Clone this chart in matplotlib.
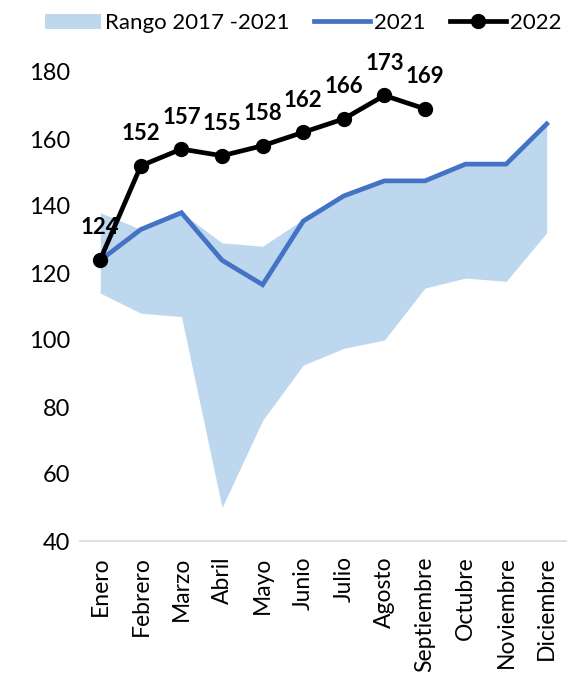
import matplotlib
matplotlib.use("Agg")
import matplotlib.pyplot as plt
import numpy as np

months = ["Enero", "Febrero", "Marzo", "Abril", "Mayo", "Junio", "Julio",
          "Agosto", "Septiembre", "Octubre", "Noviembre", "Diciembre"]
range_low = [114, 108, 107, 50, 76, 92.5, 97.5, 100, 115.5, 118.5, 117.5, 132]
range_high = [138, 133, 138, 129, 128, 136, 143, 147.5, 147.5, 152.5, 152.5, 164.5]
s2021 = [123.8, 133, 138, 123.8, 116.5, 135.5, 143, 147.5, 147.5, 152.5, 152.5, 164.5]
s2022 = [124, 152, 157, 155, 158, 162, 166, 173, 169]
labels2022 = ["124", "152", "157", "155", "158", "162", "166", "173", "169"]

plt.rcParams['font.family'] = ['Lato', 'DejaVu Sans']

fig = plt.figure(figsize=(5.67, 6.83), dpi=100)
ax = fig.add_axes([80/567, 1-541/683, 487/567, (541-72)/683])

x = np.arange(len(months))
band = ax.fill_between(x, range_low, range_high, color="#bdd7ee", linewidth=0,
                       label="Rango 2017 -2021")
l1, = ax.plot(x, s2021, color="#4472c4", lw=3.4, label="2021", solid_joinstyle="miter")
x22 = np.arange(len(s2022))
l2, = ax.plot(x22, s2022, color="black", lw=3.4, marker="o", ms=10, label="2022")
for xi, yi, t in zip(x22, s2022, labels2022):
    ax.annotate(t, (xi, yi), xytext=(0, 23), textcoords="offset points",
                ha="center", va="center", fontsize=16, fontweight="bold",
                annotation_clip=False)

ax.set_xlim(-0.5, 11.5)
ax.set_ylim(40, 180)
ax.set_yticks(np.arange(40, 181, 20))
ax.set_xticks(x)
ax.set_xticklabels(months, rotation=90)
ax.tick_params(axis="y", length=0, labelsize=17, pad=7)
ax.tick_params(axis="x", length=0, labelsize=16.5, pad=11)
for s in ["top", "right", "left"]:
    ax.spines[s].set_visible(False)
ax.spines["bottom"].set_color("#d9d9d9")
ax.spines["bottom"].set_linewidth(1.2)

fig.legend(handles=[band, l1, l2], loc="upper center", bbox_to_anchor=(0.535, 1.01),
           ncol=3, frameon=False, fontsize=16, handlelength=2.5, columnspacing=1.1,
           handletextpad=0.2)

fig.savefig("out.png", dpi=100)
